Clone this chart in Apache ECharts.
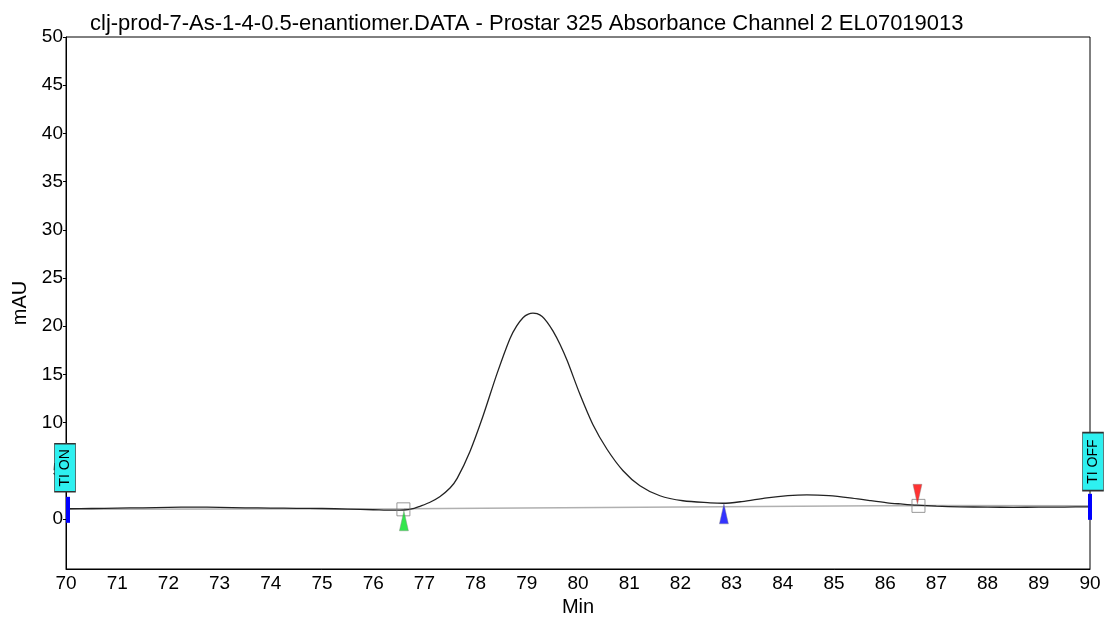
<!DOCTYPE html>
<html>
<head>
<meta charset="utf-8">
<title>Prostar 325 Absorbance Channel 2</title>
<script src="https://cdn.jsdelivr.net/npm/echarts@6/dist/echarts.min.js"></script>
<style>
  html, body { margin: 0; padding: 0; background: #fff; }
  #chart { width: 1107px; height: 617px; }
</style>
</head>
<body>
<div id="chart"></div>
<script>
// chromatogram trace (min, mAU)
var timeMin = [70.0, 70.5, 71.0, 71.5, 72.0, 72.5, 73.0, 73.5, 74.0, 74.5, 75.0, 75.5, 76.0, 76.4, 76.6, 76.8, 76.91, 77.1, 77.3, 77.5, 77.64, 77.89, 78.14, 78.42, 78.67, 78.8, 78.93, 79.03, 79.12, 79.2, 79.3, 79.4, 79.51, 79.65, 79.79, 80.04, 80.29, 80.57, 80.88, 81.21, 81.6, 82.05, 82.58, 82.83, 83.2, 83.69, 84.1, 84.47, 84.9, 85.31, 85.7, 86.04, 86.3, 86.62, 87.0, 87.46, 88.0, 88.5, 89.0, 89.5, 90.0];
var absorbance = [1.05, 1.08, 1.12, 1.15, 1.2, 1.22, 1.2, 1.15, 1.12, 1.1, 1.08, 1.02, 0.95, 0.9, 0.92, 1.1, 1.3, 1.7, 2.3, 3.2, 4.2, 7.0, 10.6, 15.1, 18.7, 20.0, 20.9, 21.25, 21.35, 21.3, 21.0, 20.4, 19.5, 18.1, 16.4, 12.9, 9.8, 7.2, 5.0, 3.44, 2.4, 1.88, 1.67, 1.62, 1.8, 2.19, 2.42, 2.5, 2.42, 2.19, 1.9, 1.67, 1.55, 1.42, 1.32, 1.25, 1.22, 1.2, 1.22, 1.23, 1.25];

// integration baseline
var baseTime = [70, 76.6, 82.8, 86.6, 90];
var baseValue = [1.0, 1.05, 1.25, 1.4, 1.35];

// peak start / end boxes
var boxTime = [76.59, 86.65];
var boxValue = [0.99, 1.35];

// event markers: start (green), valley (blue), end (red)
var eventTime = [76.6, 82.85, 86.63];
var eventValue = [-0.2, 0.52, 2.55];
var eventColor = ['#00e020', '#0000ff', '#ff0000'];
var eventRotate = [0, 0, 180];

// timed events
var tiTime = [70, 90];
var tiLabel = ['TI ON', 'TI OFF'];
var tiBoxValue = [5.3, 5.94];
var tiBarValue = [0.94, 1.25];

var yTicks = [0, 5, 10, 15, 20, 25, 30, 35, 40, 45, 50];

var font = "'Liberation Sans', Arial, sans-serif";

var trace = timeMin.map(function (t, i) { return [t, absorbance[i]]; });
var baseline = baseTime.map(function (t, i) { return [t, baseValue[i]]; });
var boxes = boxTime.map(function (t, i) { return [t, boxValue[i]]; });
var events = eventTime.map(function (t, i) {
  return {
    value: [t, eventValue[i]],
    symbolRotate: eventRotate[i],
    itemStyle: { color: eventColor[i], borderColor: '#888', borderWidth: 0.5 }
  };
});

var tiMarks = [];
tiTime.forEach(function (t, i) {
  tiMarks.push({
    coord: [t, tiBarValue[i]],
    symbol: 'rect',
    symbolSize: [4, 26],
    symbolOffset: [i === 0 ? 2 : 0, 0],
    itemStyle: { color: '#0000ff' },
    label: { show: false }
  });
  tiMarks.push({
    coord: [t, tiBoxValue[i]],
    symbol: 'rect',
    symbolSize: [21, i === 0 ? 48 : 58],
    symbolOffset: [i === 0 ? -1 : 3, 0],
    itemStyle: { color: '#2ef0f0', borderColor: '#333', borderWidth: 1 },
    label: {
      show: true,
      position: 'inside',
      formatter: tiLabel[i],
      rotate: 90,
      color: '#000',
      fontFamily: font,
      fontSize: 14
    }
  });
});

var myChart = echarts.init(document.getElementById('chart'));
myChart.setOption({
  animation: false,
  title: {
    text: 'clj-prod-7-As-1-4-0.5-enantiomer.DATA - Prostar 325 Absorbance Channel 2 EL07019013',
    left: 85,
    top: 8,
    textStyle: { color: '#000', fontFamily: font, fontSize: 22, fontWeight: 'normal' }
  },
  grid: {
    left: 66,
    right: 17,
    top: 37,
    bottom: 48,
    outerBoundsMode: 'none',
    show: true,
    borderColor: '#000',
    borderWidth: 1,
    backgroundColor: '#fff'
  },
  xAxis: {
    type: 'value',
    min: 70,
    max: 90,
    interval: 1,
    name: 'Min',
    nameLocation: 'middle',
    nameGap: 28,
    nameTextStyle: { color: '#000', fontFamily: font, fontSize: 20 },
    axisLine: { show: true, onZero: false, lineStyle: { color: '#000' } },
    axisTick: { show: false },
    splitLine: { show: false },
    axisLabel: { color: '#000', fontFamily: font, fontSize: 19, margin: 5 }
  },
  yAxis: {
    type: 'value',
    min: -5.2,
    max: 50,
    name: 'mAU',
    nameLocation: 'middle',
    nameGap: 36,
    nameTextStyle: { color: '#000', fontFamily: font, fontSize: 20 },
    axisLine: { show: true, onZero: false, lineStyle: { color: '#000' } },
    axisTick: { show: true, customValues: yTicks, length: 3, lineStyle: { color: '#000' } },
    splitLine: { show: false },
    axisLabel: { customValues: yTicks, color: '#000', fontFamily: font, fontSize: 19, margin: 3 }
  },
  series: [
    {
      name: 'baseline',
      type: 'line',
      data: baseline,
      symbol: 'none',
      lineStyle: { color: '#b0b0b0', width: 1.5 },
      z: 2
    },
    {
      name: 'trace',
      type: 'line',
      data: trace,
      symbol: 'none',
      smooth: 0.3,
      lineStyle: { color: '#222', width: 1.3 },
      z: 3,
      markPoint: {
        data: tiMarks,
        z: 6
      }
    },
    {
      name: 'boxes',
      type: 'scatter',
      data: boxes,
      symbol: 'rect',
      symbolSize: 13,
      itemStyle: { color: 'rgba(255,255,255,0)', borderColor: '#808080', borderWidth: 1 },
      z: 4
    },
    {
      name: 'events',
      type: 'scatter',
      data: events,
      symbol: 'triangle',
      symbolSize: [9, 20],
      clip: false,
      z: 5
    }
  ]
});
</script>
</body>
</html>
